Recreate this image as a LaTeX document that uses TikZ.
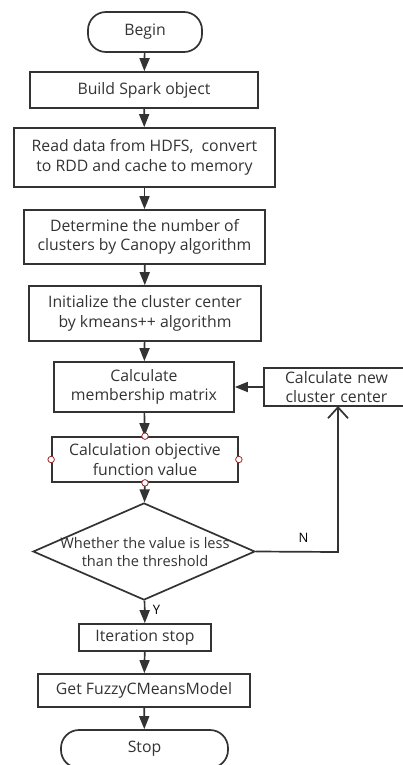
\documentclass[tikz,border=0pt]{standalone}
\usepackage{fontspec}
\setmainfont{Open Sans}
\usetikzlibrary{shapes.geometric,arrows.meta}
\definecolor{ink}{HTML}{333333}
\definecolor{dotred}{HTML}{9A2A2A}
\tikzset{
  box/.style={draw=ink, line width=1.7pt, rectangle, align=center, text=ink, inner sep=0pt, font=\fontsize{15.8}{19.5}\selectfont},
  term/.style={box, rounded corners=18pt},
  flow/.style={draw=ink, line width=1.7pt, -{Triangle[length=13pt,width=10pt]}},
  dot/.style={circle, draw=dotred, fill=white, line width=0.8pt, minimum size=6.5pt, inner sep=0pt},
  lbl/.style={text=black, font=\fontsize{13}{15}\selectfont}
}
\begin{document}
\begin{tikzpicture}[x=1pt,y=-1pt]
\useasboundingbox (0,0) rectangle (402,765);
\node[term, minimum width=114pt, minimum height=40pt] (begin) at (145,32) {Begin};
\node[box, minimum width=228pt, minimum height=36pt] (build) at (144,90) {Build Spark object};
\node[box, minimum width=261pt, minimum height=59pt] (read) at (144.5,157.5) {Read data from HDFS,\ \ convert\\to RDD and cache to memory};
\node[box, minimum width=241pt, minimum height=54pt] (canopy) at (144.5,237) {Determine the number of\\clusters by Canopy algorithm};
\node[box, minimum width=232pt, minimum height=55pt] (init) at (145,313.5) {Initialize the cluster center\\by kmeans++ algorithm};
\node[box, minimum width=180pt, minimum height=50pt] (member) at (144,387) {Calculate\\membership matrix};
\node[box, minimum width=145pt, minimum height=38pt, text width=137pt] (newc) at (336.5,387) {Calculate new\\cluster center};
\node[box, minimum width=186pt, minimum height=45pt] (obj) at (145,459.5) {Calculation objective\\function value};
\node[draw=ink, line width=1.7pt, diamond, aspect=2.29, minimum width=222pt, minimum height=97pt, inner sep=0pt] (dec) at (144,551.5) {};
\node[text=ink, align=center, font=\fontsize{14.6}{18}\selectfont] (dectext) at (145,552.5) {Whether the value is less\\than the threshold};
\node[box, minimum width=132pt, minimum height=27pt] (iter) at (145,637.5) {Iteration stop};
\node[box, minimum width=212pt, minimum height=33pt] (model) at (144,690.5) {Get FuzzyCMeansModel};
\node[term, minimum width=167pt, minimum height=38pt] (stop) at (144.5,749) {Stop};
\coordinate (corner) at (338,552);
\coordinate (newcb) at (338,406);
\draw[flow] (begin) -- (build);
\draw[flow] (build) -- (read);
\draw[flow] (read) -- (canopy);
\draw[flow] (canopy) -- (init);
\draw[flow] (init) -- (member);
\draw[flow] (member) -- (obj);
\draw[flow] (obj) -- (dec);
\draw[flow] (dec) -- node[lbl, right=4pt, pos=0.4] (ylbl) {Y} (iter);
\draw[flow] (iter) -- (model);
\draw[flow] (model) -- (stop);
\draw[flow] (newc.west) -- (member.east);
\draw[draw=ink, line width=1.7pt, -{Straight Barb[length=11pt,width=20pt]}] (dec.east) -- node[lbl, above=5pt, pos=0.58] (nlbl) {N} (corner) -- (newcb);
\node[dot] (d1) at (obj.north) {};
\node[dot] (d2) at (obj.south) {};
\node[dot] (d3) at (obj.west) {};
\node[dot] (d4) at (obj.east) {};
\end{tikzpicture}
\end{document}
